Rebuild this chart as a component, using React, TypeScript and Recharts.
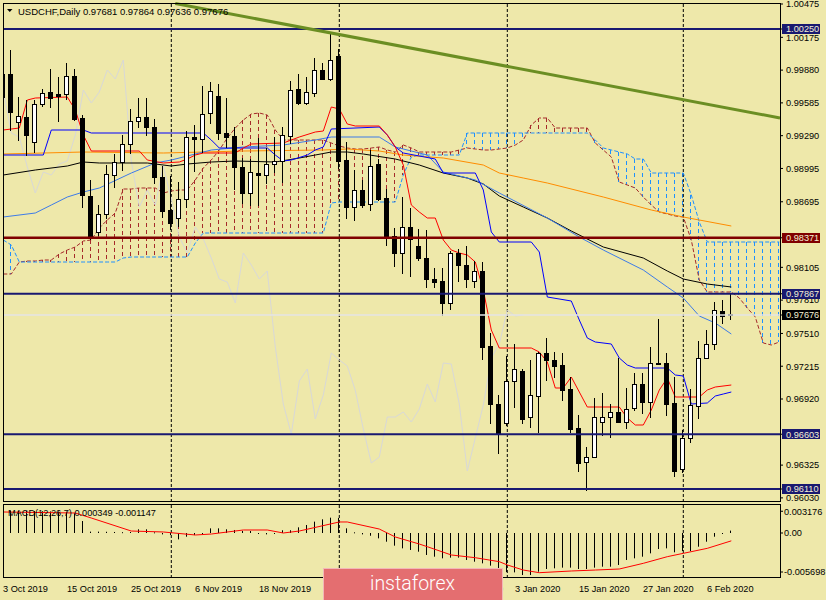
import React from 'react';
import { ComposedChart, Bar, Line, XAxis, YAxis, ReferenceLine } from 'recharts';

const FONT = '"Liberation Sans", Arial, sans-serif';

// ---------- daily candles, 3 Oct 2019 .. 11 Feb 2020 ----------
const openP = [
  0.99638, 0.99845, 0.99413, 0.99458, 0.99233, 0.99575, 0.99683, 0.99665, 0.99665, 0.99827,
  0.99449, 0.98747, 0.98423, 0.98585, 0.98936, 0.99053, 0.99215, 0.99422, 0.99458, 0.99368,
  0.98918, 0.98621, 0.98549, 0.98720, 0.99278, 0.99260, 0.99494, 0.99647, 0.99314, 0.99287,
  0.99008, 0.98774, 0.98954, 0.98936, 0.99035, 0.99062, 0.99287, 0.99710, 0.99584, 0.99674,
  0.99881, 0.99800, 1.00007, 0.99071, 0.98648, 0.98801, 0.98675, 0.99035, 0.98729, 0.98387,
  0.98234, 0.98468, 0.98297, 0.98189, 0.98000, 0.97982, 0.97784, 0.98234, 0.98126, 0.97982,
  0.98072, 0.97397, 0.96875, 0.96704, 0.97082, 0.97172, 0.96758, 0.96947, 0.97334, 0.97271,
  0.97226, 0.97010, 0.96659, 0.96353, 0.96398, 0.96713, 0.96758, 0.96803, 0.96713, 0.96839,
  0.97055, 0.96893, 0.97244, 0.97244, 0.96884, 0.96290, 0.96569, 0.96857, 0.97289, 0.97415,
  0.97712, 0.97681,
];
const highP = [
  0.99926, 1.00061, 0.99638, 0.99611, 0.99611, 0.99710, 0.99890, 0.99818, 0.99944, 0.99890,
  0.99476, 0.98891, 0.98666, 0.99026, 0.99125, 0.99296, 0.99530, 0.99629, 0.99629, 0.99440,
  0.99017, 0.98927, 0.98873, 0.99332, 0.99386, 0.99737, 0.99773, 0.99755, 0.99629, 0.99368,
  0.99089, 0.99080, 0.99269, 0.99179, 0.99278, 0.99368, 0.99782, 0.99845, 0.99818, 0.99989,
  0.99944, 1.00214, 1.00070, 0.99233, 0.98981, 0.98891, 0.99161, 0.99080, 0.98810, 0.98459,
  0.98738, 0.98639, 0.98450, 0.98441, 0.98099, 0.98099, 0.98252, 0.98270, 0.98297, 0.98162,
  0.98153, 0.97514, 0.96956, 0.97307, 0.97415, 0.97190, 0.97271, 0.97343, 0.97469, 0.97343,
  0.97334, 0.97118, 0.96776, 0.96488, 0.96929, 0.96974, 0.96875, 0.97289, 0.97019, 0.97154,
  0.97154, 0.97388, 0.97640, 0.97334, 0.97118, 0.96641, 0.97010, 0.97442, 0.97541, 0.97793,
  0.97811, 0.97864,
];
const lowP = [
  0.99503, 0.99341, 0.99251, 0.99116, 0.99143, 0.99557, 0.99548, 0.99422, 0.99620, 0.99431,
  0.98648, 0.98360, 0.98396, 0.98549, 0.98828, 0.98981, 0.99134, 0.99368, 0.99296, 0.98864,
  0.98558, 0.98450, 0.98477, 0.98648, 0.98971, 0.99143, 0.99404, 0.99260, 0.99188, 0.98810,
  0.98684, 0.98666, 0.98666, 0.98864, 0.98963, 0.98873, 0.99224, 0.99575, 0.99575, 0.99647,
  0.99800, 0.99791, 0.98999, 0.98549, 0.98531, 0.98648, 0.98621, 0.98711, 0.98306, 0.98117,
  0.98054, 0.98027, 0.98171, 0.97928, 0.97928, 0.97676, 0.97730, 0.97982, 0.97928, 0.97928,
  0.97280, 0.96704, 0.96434, 0.96686, 0.96848, 0.96704, 0.96668, 0.96623, 0.97091, 0.97118,
  0.96911, 0.96623, 0.96272, 0.96101, 0.96398, 0.96596, 0.96578, 0.96713, 0.96659, 0.96821,
  0.96794, 0.96758, 0.97235, 0.96776, 0.96227, 0.96263, 0.96533, 0.96749, 0.97289, 0.97370,
  0.97604, 0.97636,
];
const closeP = [
  0.99845, 0.99503, 0.99467, 0.99296, 0.99575, 0.99674, 0.99629, 0.99647, 0.99827, 0.99440,
  0.98756, 0.98378, 0.98585, 0.98945, 0.99053, 0.99215, 0.99422, 0.99458, 0.99368, 0.98918,
  0.98612, 0.98504, 0.98720, 0.99278, 0.99260, 0.99485, 0.99692, 0.99314, 0.99278, 0.99008,
  0.98774, 0.98963, 0.98936, 0.99035, 0.99062, 0.99296, 0.99701, 0.99584, 0.99683, 0.99881,
  0.99800, 0.99971, 0.99062, 0.98648, 0.98801, 0.98666, 0.99017, 0.98720, 0.98378, 0.98234,
  0.98468, 0.98360, 0.98189, 0.98000, 0.97973, 0.97784, 0.98234, 0.98126, 0.98000, 0.98072,
  0.97388, 0.96875, 0.96605, 0.97082, 0.97190, 0.96740, 0.96956, 0.97334, 0.97271, 0.97217,
  0.96998, 0.96650, 0.96344, 0.96398, 0.96758, 0.96758, 0.96803, 0.96713, 0.96830, 0.97055,
  0.96893, 0.97244, 0.97235, 0.96875, 0.96272, 0.96569, 0.96866, 0.97289, 0.97415, 0.97721,
  0.97667, 0.97676,
];

// ---------- moving averages, read at points [bar, price] ----------
const maBlack = [
  [0, 0.98936], [4, 0.98981], [8, 0.99017], [10, 0.99053], [12, 0.99044], [18, 0.99044], [21, 0.99017],
  [23, 0.99035], [26, 0.99053], [29, 0.99062], [34, 0.99053], [37, 0.99089], [41, 0.99143], [43, 0.99143],
  [45, 0.99125], [49, 0.9908], [52, 0.99026], [55, 0.98954], [58, 0.98909], [60, 0.98855], [62, 0.98747],
  [65, 0.98648], [68, 0.98549], [71, 0.98432], [75, 0.98288], [80, 0.98189], [83, 0.98072], [85, 0.98],
  [88, 0.97955], [91, 0.97928],
];
const maOrange = [
  [0, 0.99125], [10, 0.99143], [20, 0.99134], [30, 0.99152], [40, 0.99161], [43, 0.9917], [47, 0.99152],
  [50, 0.99116], [55, 0.99089], [60, 0.99026], [62, 0.98954], [65, 0.98909], [68, 0.98864], [75, 0.98738],
  [81, 0.98621], [85, 0.98558], [91, 0.98477],
];
const maBlue = [
  [0, 0.98558], [4, 0.98594], [6, 0.98666], [8, 0.98738], [10, 0.98783], [12, 0.98819], [16, 0.98954],
  [19, 0.99044], [21, 0.99071], [23, 0.99107], [26, 0.99161], [30, 0.99188], [35, 0.99206], [39, 0.99251],
  [41, 0.99278], [47, 0.99278], [49, 0.99188], [53, 0.99116], [55, 0.98963], [59, 0.98891], [62, 0.98774],
  [68, 0.98549], [72, 0.98378], [75, 0.98261], [80, 0.98081], [83, 0.97928], [85, 0.97829], [87, 0.97667],
  [89, 0.97604], [91, 0.97505],
];

// ---------- Ichimoku ----------
const tenkan = [
  [0, 0.99341], [2, 0.99359], [3, 0.99611], [4, 0.99629], [8, 0.99638], [9, 0.99521], [10, 0.99296],
  [11, 0.99152], [17, 0.99152], [18, 0.99071], [20, 0.99044], [22, 0.99053], [23, 0.9908], [24, 0.99116],
  [25, 0.99134], [29, 0.99134], [30, 0.99179], [31, 0.99215], [35, 0.99224], [37, 0.99278], [39, 0.99323],
  [40, 0.99332], [41, 0.99548], [42, 0.9953], [43, 0.99395], [44, 0.99377], [47, 0.99377], [48, 0.99296],
  [49, 0.99188], [50, 0.99026], [51, 0.98666], [52, 0.98603], [53, 0.98549], [54, 0.98549], [55, 0.98351],
  [56, 0.98261], [57, 0.98234], [58, 0.98216], [59, 0.98153], [60, 0.97901], [61, 0.97541], [62, 0.97379],
  [66, 0.97379], [67, 0.97343], [68, 0.97253], [69, 0.97019], [70, 0.97019], [71, 0.97118], [72, 0.96983],
  [73, 0.96848], [77, 0.96848], [78, 0.96749], [79, 0.96686], [80, 0.96686], [81, 0.96821], [82, 0.97001],
  [83, 0.97109], [84, 0.96938], [87, 0.96938], [88, 0.97001], [89, 0.97028], [91, 0.97046],
];
const kijun = [
  [0, 0.99116], [5, 0.99116], [6, 0.99341], [10, 0.99341], [11, 0.99314], [25, 0.99314], [26, 0.99251],
  [27, 0.99179], [33, 0.99179], [34, 0.99116], [35, 0.99062], [36, 0.99071], [38, 0.99116], [39, 0.99161],
  [40, 0.99188], [41, 0.9935], [47, 0.99368], [48, 0.99296], [49, 0.99188], [50, 0.99134], [54, 0.9908],
  [55, 0.98954], [59, 0.98954], [60, 0.98801], [61, 0.98423], [62, 0.98333], [66, 0.98333], [67, 0.98243],
  [68, 0.97838], [71, 0.97802], [72, 0.97631], [73, 0.97469], [74, 0.97433], [76, 0.97415], [77, 0.97289],
  [78, 0.97226], [79, 0.97199], [83, 0.97199], [84, 0.97136], [85, 0.97127], [86, 0.96875], [88, 0.96884],
  [89, 0.96947], [90, 0.96965], [91, 0.96983],
];
const spanA = [
  0.98045, 0.98045, 0.98153, 0.98162, 0.98162, 0.98171, 0.98171, 0.98225, 0.98261, 0.98288,
  0.98342, 0.98351, 0.98459, 0.98531, 0.98594, 0.98810, 0.98810, 0.98819, 0.98819, 0.98819,
  0.98774, 0.98792, 0.98801, 0.98801, 0.98891, 0.98999, 0.99071, 0.99161, 0.99269, 0.99359,
  0.99431, 0.99485, 0.99494, 0.99476, 0.99341, 0.99251, 0.99251, 0.99251, 0.99251, 0.99251,
  0.99251, 0.99224, 0.99197, 0.99179, 0.99170, 0.99170, 0.99179, 0.99188, 0.99161, 0.99143,
  0.99206, 0.99179, 0.99143, 0.99143, 0.99143, 0.99143, 0.99143, 0.99161, 0.99179, 0.99170,
  0.99161, 0.99161, 0.99170, 0.99179, 0.99206, 0.99251, 0.99386, 0.99449, 0.99449, 0.99359,
  0.99359, 0.99359, 0.99359, 0.99359, 0.99224, 0.99161, 0.99098, 0.98873, 0.98846, 0.98819,
  0.98738, 0.98666, 0.98603, 0.98585, 0.98567, 0.98558, 0.98351, 0.97991, 0.97883, 0.97883,
  0.97883, 0.97883, 0.97829, 0.97739, 0.97658, 0.97424, 0.97406, 0.97433,
];
const spanB = [
  0.98351, 0.98306, 0.98153, 0.98153, 0.98153, 0.98153, 0.98153, 0.98153, 0.98153, 0.98153,
  0.98153, 0.98153, 0.98153, 0.98153, 0.98153, 0.98189, 0.98198, 0.98198, 0.98198, 0.98198,
  0.98198, 0.98198, 0.98198, 0.98198, 0.98324, 0.98414, 0.98414, 0.98414, 0.98414, 0.98414,
  0.98414, 0.98414, 0.98414, 0.98414, 0.98414, 0.98414, 0.98414, 0.98414, 0.98414, 0.98414,
  0.98414, 0.98684, 0.98693, 0.98693, 0.98693, 0.98693, 0.98693, 0.98693, 0.98693, 0.98693,
  0.98936, 0.99098, 0.99116, 0.99116, 0.99116, 0.99116, 0.99116, 0.99116, 0.99314, 0.99314,
  0.99314, 0.99314, 0.99314, 0.99314, 0.99314, 0.99314, 0.99314, 0.99314, 0.99314, 0.99314,
  0.99314, 0.99314, 0.99314, 0.99314, 0.99251, 0.99179, 0.99161, 0.99143, 0.99125, 0.99080,
  0.99080, 0.98954, 0.98954, 0.98954, 0.98954, 0.98954, 0.98756, 0.98513, 0.98333, 0.98333,
  0.98333, 0.98333, 0.98333, 0.98333, 0.98333, 0.98333, 0.98333, 0.98333,
];
const CHIKOU_SHIFT = 26;

// ---------- MACD(12,26,7) ----------
const macdHist = [
  0.00335, 0.0033, 0.00325, 0.00322, 0.0032, 0.00318, 0.00315, 0.00315, 0.00312, 0.0029,
  0.00175, 0.0002, 0.0002, 0.00018, 0.00015, 0.00012, 0.00015, 0.00054, 0.00054, 0.0001,
  -0.0002, -0.0003, -0.00093, -0.00054, -0.0003, -0.0001, 0.00068, 0.00068, 0.00054, 0.00044,
  0.0003, 0.00029, -0.0001, -0.0002, -0.0001, 0.0004, 0.0004, 0.00083, 0.00117, 0.00166,
  0.002, 0.00224, 0.0022, 0.00068, 0.0001, -0.0002, -0.0004, -0.00078, -0.00127, -0.00185,
  -0.00224, -0.00248, -0.00273, -0.00321, -0.00346, -0.0037, -0.0036, -0.0036, -0.00394, -0.00419,
  -0.00443, -0.00477, -0.00541, -0.0057, -0.00575, -0.00614, -0.00614, -0.00565, -0.00526, -0.00516,
  -0.00506, -0.00506, -0.00526, -0.00526, -0.00506, -0.00492, -0.00492, -0.00467, -0.00394, -0.0037,
  -0.00346, -0.00297, -0.00234, -0.00224, -0.00282, -0.00263, -0.00263, -0.002, -0.00127, -0.00054,
  -0.00005, 0.000349,
];
const macdSignal = [
  [0, 0.00307], [9, 0.00292], [11, 0.00219], [16, 0.00029], [20, 0.00015], [24, -0.00029], [26, -0.00015],
  [30, 0.00044], [33, 0.00044], [35, 0.0], [37, 0.00029], [42, 0.00161], [43, 0.00161], [47, 0.00058],
  [49, -0.00058], [52, -0.00161], [53, -0.002], [56, -0.00321], [59, -0.00361], [62, -0.00419], [63, -0.00467],
  [65, -0.00541], [67, -0.0058], [71, -0.00555], [74, -0.00541], [77, -0.00526], [80, -0.00443], [83, -0.00346],
  [85, -0.00297], [88, -0.00224], [91, -0.001147],
];

// ---------- axes / annotations ----------
const dateTickBars = [0, 8, 16, 24, 32, 40, 48, 56, 64, 72, 80, 88];
const dateTickLabels = [
  '3 Oct 2019', '15 Oct 2019', '25 Oct 2019', '6 Nov 2019', '18 Nov 2019', '28 Nov 2019',
  '10 Dec 2019', '20 Dec 2019', '3 Jan 2020', '15 Jan 2020', '27 Jan 2020', '6 Feb 2020',
];
const priceScaleTicks = [
  1.00475, 1.00175, 0.9988, 0.99585, 0.9929, 0.98995, 0.98695, 0.98105, 0.9781, 0.9751,
  0.97215, 0.9692, 0.96325, 0.9603,
];
const levelPrices = [1.0025, 0.98371, 0.97867, 0.96603, 0.9611];
const levelColors = ['#191970', '#800000', '#191970', '#191970', '#191970'];
const separatorBars = [21, 42, 63, 85];
const trendline = [
  [21.5, 1.0048],
  [97.0875, 0.99449],
];
const macdTicks = [0.003176, 0, -0.005698];
const macdTickLabels = ['0.003176', '0.00', '-0.005698'];

const LAST = closeP.length - 1;
const lastPrice = closeP[LAST];
const SLOTS = spanA.length;
const xDomain: [number, number] = [-0.0375, 97.0875];
const yDomain: [number, number] = [0.95993, 1.00484];
const macdDomain: [number, number] = [-0.006574, 0.004237];

const boxColor: Record<string, string> = {};
levelPrices.forEach((p, i) => (boxColor[p.toFixed(5)] = levelColors[i]));
boxColor[lastPrice.toFixed(5)] = '#000000';
const allPriceTicks = [...priceScaleTicks, ...levelPrices, lastPrice];

// ---------- table ----------
const rows: any[] = [];
for (let i = 0; i < SLOTS; i++) {
  const r: any = { i };
  if (i < openP.length) {
    r.open = openP[i];
    r.high = highP[i];
    r.low = lowP[i];
    r.close = closeP[i];
    r.range = [lowP[i], highP[i]];
    r.hist = macdHist[i];
  }
  if (i + CHIKOU_SHIFT < closeP.length) r.chikou = closeP[i + CHIKOU_SHIFT];
  r.spanA = spanA[i];
  r.spanB = spanB[i];
  r.cloud = [Math.min(spanA[i], spanB[i]), Math.max(spanA[i], spanB[i])];
  r.cloudUp = spanA[i] >= spanB[i];
  rows.push(r);
}
const put = (pts: number[][], key: string) => pts.forEach(([b, v]) => (rows[b][key] = v));
put(maBlack, 'maBlack');
put(maOrange, 'maOrange');
put(maBlue, 'maBlue');
put(tenkan, 'tenkan');
put(kijun, 'kijun');
put(macdSignal, 'signal');

// ---------- shapes ----------
function Candle(props: any) {
  const { x, y, width, height, payload } = props;
  if (!payload || payload.open == null || x == null || y == null || isNaN(y)) return <g />;
  const { open, close, high, low } = payload;
  const cx = Math.floor(x + width / 2) + 0.5;
  const yHi = Math.min(y, y + height);
  const yLo = Math.max(y, y + height);
  const span = high - low;
  const py = (v: number) => (span > 0 ? yHi + ((high - v) / span) * (yLo - yHi) : yHi);
  const t = Math.round(Math.min(py(open), py(close))) + 0.5;
  const b = Math.round(Math.max(py(open), py(close))) + 0.5;
  const bull = close >= open;
  return (
    <g>
      <line x1={cx} x2={cx} y1={Math.round(yHi)} y2={Math.round(yLo) + 1} stroke="#000" strokeWidth={1} />
      <rect x={cx - 2} y={t} width={4} height={Math.max(b - t, 1)} fill={bull ? '#ffffff' : '#000000'} stroke="#000" strokeWidth={1} />
    </g>
  );
}

function Hatch(props: any) {
  const { x, y, width, height, payload } = props;
  if (!payload || x == null || y == null || isNaN(y) || !height || Math.abs(height) < 1) return <g />;
  const cx = Math.floor(x + width / 2) + 0.5;
  const top = Math.min(y, y + height);
  return (
    <line x1={cx} x2={cx} y1={top} y2={top + Math.abs(height)} stroke={payload.cloudUp ? '#A52A2A' : '#1E90FF'} strokeWidth={1} strokeDasharray="4 3" />
  );
}

function HistBar(props: any) {
  const { x, y, width, height, payload } = props;
  if (!payload || payload.hist == null || x == null || y == null || isNaN(y)) return <g />;
  const cx = Math.floor(x + width / 2);
  const top = Math.min(y, y + height);
  return <rect x={cx} y={top} width={1} height={Math.max(Math.abs(height), 1)} fill="#000" />;
}

function PriceTick(props: any) {
  const { y, payload } = props;
  const label = Number(payload.value).toFixed(5);
  const bg = boxColor[label];
  return (
    <g>
      {bg ? <rect x={782} y={Math.round(y) - 5} width={38} height={10} fill={bg} /> : null}
      <text x={786} y={y + 3.3} fontSize={9.2} fontFamily={FONT} fill={bg ? '#F4F0D4' : '#000'}>
        {label}
      </text>
    </g>
  );
}

function DateTick(props: any) {
  const { x, payload } = props;
  const idx = dateTickBars.indexOf(payload.value);
  return (
    <text x={Math.floor(x)} y={87.5} fontSize={9.2} fontFamily={FONT} fill="#000">
      {dateTickLabels[idx]}
    </text>
  );
}

function MacdTick(props: any) {
  const { y, payload } = props;
  const idx = macdTicks.indexOf(payload.value);
  return (
    <text x={784} y={y + 3.3} fontSize={9.2} fontFamily={FONT} fill="#000">
      {macdTickLabels[idx]}
    </text>
  );
}

const lineProps = { type: 'linear' as const, dot: false, activeDot: false, connectNulls: true, isAnimationActive: false, strokeWidth: 1 };

export default function App() {
  const title = `USDCHF,Daily ${openP[LAST].toFixed(5)} ${highP[LAST].toFixed(5)} ${lowP[LAST].toFixed(5)} ${closeP[LAST].toFixed(5)}`;
  const macdTitle = `MACD(12,26,7) ${macdHist[LAST].toFixed(6)} ${macdSignal[macdSignal.length - 1][1].toFixed(6)}`;
  return (
    <div style={{ position: 'absolute', left: 0, top: 0, width: 826, height: 600, background: '#EEE8AA', overflow: 'hidden', fontFamily: FONT }}>
      {/* back layer: cloud, indicators */}
      <div style={{ position: 'absolute', left: 0, top: 0 }}>
        <ComposedChart width={826} height={504} data={rows} margin={{ top: 3, right: 46, bottom: 2, left: 3 }}>
          <XAxis type="number" dataKey="i" domain={xDomain} hide allowDataOverflow />
          <YAxis domain={yDomain} hide allowDataOverflow />
          {separatorBars.map((b) => (
            <ReferenceLine key={b} x={b} stroke="#000" strokeDasharray="3 2" />
          ))}
          <Bar dataKey="cloud" barSize={1} shape={Hatch} isAnimationActive={false} />
          <Line {...lineProps} dataKey="spanA" stroke="#A52A2A" strokeDasharray="4 2" />
          <Line {...lineProps} dataKey="spanB" stroke="#1E90FF" strokeDasharray="4 2" />
          <Line {...lineProps} dataKey="chikou" stroke="#D8D8D8" connectNulls={false} />
          <Line {...lineProps} dataKey="maOrange" stroke="#FF8C00" />
          <Line {...lineProps} dataKey="maBlack" stroke="#000000" />
          <Line {...lineProps} dataKey="maBlue" stroke="#3D7BE8" />
          <Line {...lineProps} dataKey="kijun" stroke="#0000FF" />
          <Line {...lineProps} dataKey="tenkan" stroke="#FF0000" />
        </ComposedChart>
      </div>
      {/* front layer: candles, levels, price scale */}
      <div style={{ position: 'absolute', left: 0, top: 0 }}>
        <ComposedChart width={826} height={504} data={rows} margin={{ top: 3, right: 0, bottom: 2, left: 3 }}>
          <XAxis type="number" dataKey="i" domain={xDomain} hide allowDataOverflow />
          <YAxis
            orientation="right"
            width={46}
            domain={yDomain}
            ticks={allPriceTicks}
            interval={0}
            tick={PriceTick}
            tickSize={3}
            tickLine={{ stroke: '#000' }}
            axisLine={false}
            allowDataOverflow
          />
          <Bar dataKey="range" barSize={5} shape={Candle} isAnimationActive={false} />
          <ReferenceLine y={lastPrice} stroke="#E4E4E4" strokeWidth={1.5} />
          {levelPrices.map((p, i) => (
            <ReferenceLine key={p} y={p} stroke={levelColors[i]} strokeWidth={i === 1 ? 2.5 : 2} />
          ))}
          <ReferenceLine
            segment={[
              { x: trendline[0][0], y: trendline[0][1] },
              { x: trendline[1][0], y: trendline[1][1] },
            ]}
            stroke="#6B8E23"
            strokeWidth={3}
            ifOverflow="visible"
          />
        </ComposedChart>
      </div>
      {/* MACD panel */}
      <div style={{ position: 'absolute', left: 0, top: 504 }}>
        <ComposedChart width={826} height={96} data={rows} margin={{ top: 0, right: 0, bottom: 0, left: 3 }}>
          <XAxis
            type="number"
            dataKey="i"
            domain={xDomain}
            ticks={dateTickBars}
            interval={0}
            tick={DateTick}
            height={22}
            axisLine={false}
            tickLine={false}
            allowDataOverflow
          />
          <YAxis
            orientation="right"
            width={46}
            domain={macdDomain}
            ticks={macdTicks}
            interval={0}
            tick={MacdTick}
            tickSize={3}
            tickLine={{ stroke: '#000' }}
            axisLine={false}
            allowDataOverflow
          />
          {separatorBars.map((b) => (
            <ReferenceLine key={b} x={b} stroke="#000" strokeDasharray="3 2" />
          ))}
          <Bar dataKey="hist" barSize={1} shape={HistBar} isAnimationActive={false} />
          <Line {...lineProps} dataKey="signal" stroke="#FF0000" />
        </ComposedChart>
      </div>
      {/* frames, titles, logo */}
      <svg width={826} height={600} style={{ position: 'absolute', left: 0, top: 0, pointerEvents: 'none' }}>
        <rect x={3.5} y={3.5} width={777} height={498} fill="none" stroke="#000" />
        <rect x={3.5} y={504.5} width={777} height={73} fill="none" stroke="#000" />
        <polygon points="7,9 12.5,9 9.75,12" fill="#000" />
        <text x={18} y={14.5} fontSize={9.5} fontFamily={FONT} fill="#000">
          {title}
        </text>
        <text x={8} y={516.3} fontSize={9.2} fontFamily={FONT} fill="#000">
          {macdTitle}
        </text>
        <rect x={323.5} y={568.5} width={179} height={40} fill="#E46E70" stroke="#F2B8B8" />
        <text
          x={412.5}
          y={590}
          textAnchor="middle"
          fontSize={21}
          fontFamily="Roboto, sans-serif"
          fontWeight={300}
          fill="#FFFFFF"
          textLength={85}
          lengthAdjust="spacingAndGlyphs"
        >
          instaforex
        </text>
      </svg>
    </div>
  );
}
